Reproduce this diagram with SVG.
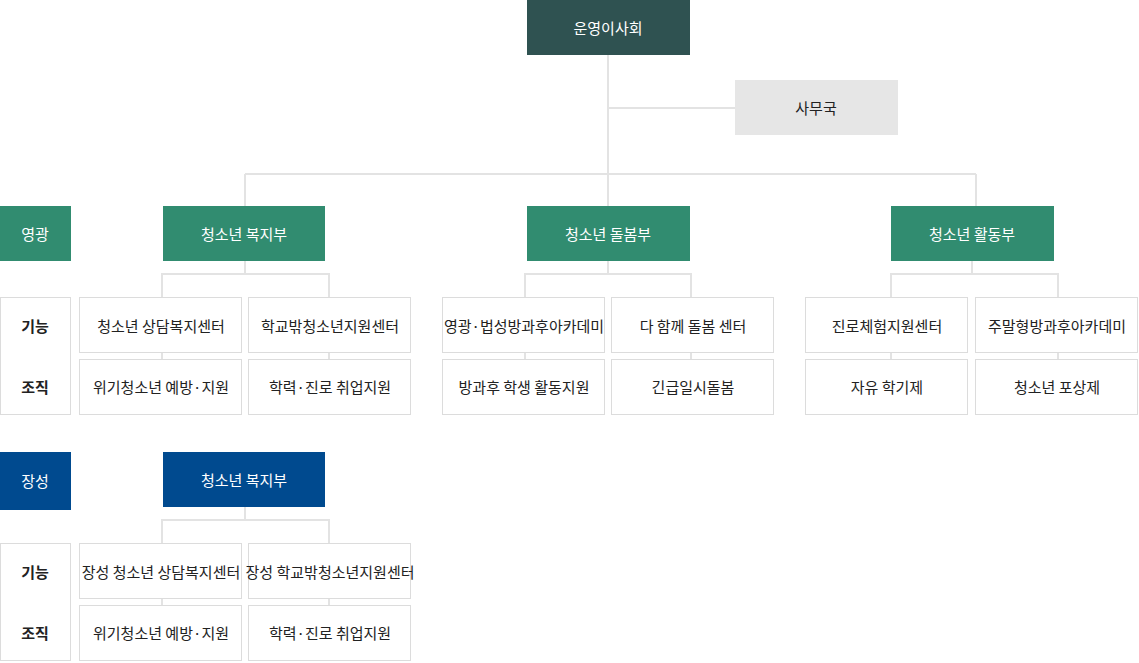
<svg xmlns="http://www.w3.org/2000/svg" width="1139" height="663" viewBox="0 0 1139 663">
<style>
text{font-family:"Noto Sans CJK KR","Noto Sans",sans-serif;font-size:15px;text-anchor:middle;dominant-baseline:central;fill:#222}
.w{fill:#fff}
.g{fill:#318c70}
.b{fill:#004a8f}
.box{fill:#fff;stroke:#dcdcdc;stroke-width:1}
.ln{stroke:#e3e3e3;stroke-width:2;fill:none}
.lb{font-weight:bold}
</style>
<g id="connectors" class="ln">
<path d="M608 55V206M608 108H735M245 174H976M245 174V206M976 174V206"/>
<path d="M245 261V274M162 297V274H329V297M162 353V359M329 353V359"/>
<path d="M608 261V274M525 297V274H691V297M525 353V359M691 353V359"/>
<path d="M972 261V274M891 297V274H1058V297M891 353V359M1058 353V359"/>
<path d="M245 507V520M162 543V520H329V543M162 599V605M329 599V605"/>
</g>
<g id="board"><rect x="527" y="0" width="163" height="55" fill="#2f5251"/><text class="w" x="608" y="27">운영이사회</text></g>
<g id="office"><rect x="735" y="80" width="163" height="55" fill="#e6e6e6"/><text x="816" y="107">사무국</text></g>
<g id="yg"><rect class="g" x="0" y="206" width="71" height="55"/><text class="w" x="35" y="233">영광</text></g>
<g id="d1"><rect class="g" x="163" y="206" width="162" height="55"/><text class="w" x="244" y="233">청소년 복지부</text></g>
<g id="d2"><rect class="g" x="527" y="206" width="163" height="55"/><text class="w" x="608" y="233">청소년 돌봄부</text></g>
<g id="d3"><rect class="g" x="891" y="206" width="163" height="55"/><text class="w" x="972" y="233">청소년 활동부</text></g>
<g id="lab1"><rect class="box" x="0.5" y="297.5" width="70" height="117"/><text class="lb" x="35" y="325">기능</text><text class="lb" x="35" y="386">조직</text></g>
<g id="b1"><rect class="box" x="79.5" y="297.5" width="162" height="55"/><text x="161" y="325">청소년 상담복지센터</text></g>
<g id="b2"><rect class="box" x="248.5" y="297.5" width="162" height="55"/><text x="330" y="325">학교밖청소년지원센터</text></g>
<g id="b3"><rect class="box" x="79.5" y="359.5" width="162" height="55"/><text x="161" y="386">위기청소년 예방·지원</text></g>
<g id="b4"><rect class="box" x="248.5" y="359.5" width="162" height="55"/><text x="330" y="386">학력·진로 취업지원</text></g>
<g id="b5"><rect class="box" x="442.5" y="297.5" width="162" height="55"/><text x="524" y="325">영광·법성방과후아카데미</text></g>
<g id="b6"><rect class="box" x="611.5" y="297.5" width="162" height="55"/><text x="693" y="325">다 함께 돌봄 센터</text></g>
<g id="b7"><rect class="box" x="442.5" y="359.5" width="162" height="55"/><text x="524" y="386">방과후 학생 활동지원</text></g>
<g id="b8"><rect class="box" x="611.5" y="359.5" width="162" height="55"/><text x="693" y="386">긴급일시돌봄</text></g>
<g id="b9"><rect class="box" x="805.5" y="297.5" width="162" height="55"/><text x="887" y="325">진로체험지원센터</text></g>
<g id="b10"><rect class="box" x="975.5" y="297.5" width="162" height="55"/><text x="1057" y="325">주말형방과후아카데미</text></g>
<g id="b11"><rect class="box" x="805.5" y="359.5" width="162" height="55"/><text x="887" y="386">자유 학기제</text></g>
<g id="b12"><rect class="box" x="975.5" y="359.5" width="162" height="55"/><text x="1057" y="386">청소년 포상제</text></g>
<g id="js"><rect class="b" x="0" y="452" width="71" height="58"/><text class="w" x="35" y="480">장성</text></g>
<g id="d4"><rect class="b" x="163" y="452" width="162" height="55"/><text class="w" x="244" y="479">청소년 복지부</text></g>
<g id="lab2"><rect class="box" x="0.5" y="543.5" width="70" height="117"/><text class="lb" x="35" y="571">기능</text><text class="lb" x="35" y="632">조직</text></g>
<g id="c1"><rect class="box" x="79.5" y="543.5" width="162" height="55"/><text x="161" y="571">장성 청소년 상담복지센터</text></g>
<g id="c2"><rect class="box" x="248.5" y="543.5" width="162" height="55"/><text x="330" y="571">장성 학교밖청소년지원센터</text></g>
<g id="c3"><rect class="box" x="79.5" y="605.5" width="162" height="55"/><text x="161" y="632">위기청소년 예방·지원</text></g>
<g id="c4"><rect class="box" x="248.5" y="605.5" width="162" height="55"/><text x="330" y="632">학력·진로 취업지원</text></g>
</svg>
